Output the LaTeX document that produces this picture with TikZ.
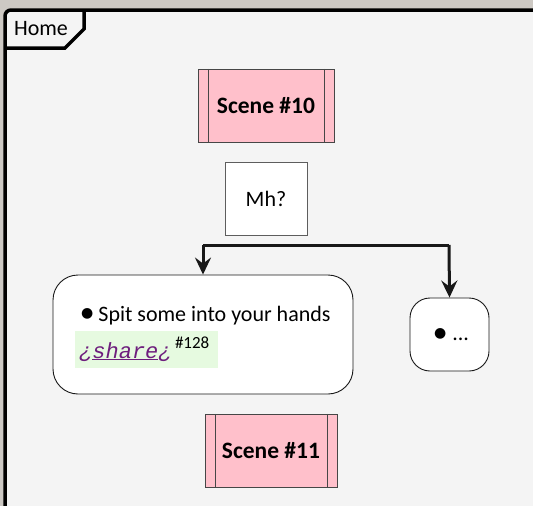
\documentclass[tikz,border=0pt]{standalone}
\usepackage{fontspec}
\setmainfont{Carlito}
\newfontfamily\monofont{Liberation Mono}
\newfontfamily\dotfont{DejaVu Sans}
\usetikzlibrary{arrows.meta}

\definecolor{outside}{RGB}{205,201,196}
\definecolor{framebg}{RGB}{244,244,244}
\definecolor{scenepink}{RGB}{255,192,203}
\definecolor{sharegreen}{RGB}{230,250,224}
\definecolor{sharepurple}{RGB}{110,30,125}
\definecolor{ink}{RGB}{24,24,24}

\newcommand{\bigdot}{{\dotfont\fontsize{14}{14}\selectfont ●}}

\begin{document}
\begin{tikzpicture}[x=1pt,y=-1pt,
  scene/.style={draw=ink!80,fill=scenepink,minimum width=136pt,minimum height=73pt,
    font=\fontsize{23.5}{26}\selectfont\bfseries},
  question/.style={draw=ink!70,fill=white,minimum width=82pt,minimum height=73pt,
    font=\fontsize{22}{26}\selectfont},
  activity/.style={draw=ink,fill=white,rounded corners=25pt,line width=0.9pt},
  flow/.style={ink,line width=3pt,-{Stealth[length=17pt,width=16pt,inset=6pt]}}]

\useasboundingbox (0,0) rectangle (533,506);
\fill [outside] (0,0) rectangle (533,506);
\clip (0,0) rectangle (533,506);

% frame
\draw [line width=3.5pt,fill=framebg,rounded corners=6pt] (5,10) rectangle (560,530);
\draw [line width=3.5pt] (5,48) -- (65,48) -- (84,29) -- (84,10);
\node (home) at (41,29) {\fontsize{22}{26}\selectfont Home};

% scenes
\node [scene] (s10) at (266,105.5) {Scene \#10};
\draw [ink!80] ([xshift=10pt]s10.north west) -- ([xshift=10pt]s10.south west);
\draw [ink!80] ([xshift=-10pt]s10.north east) -- ([xshift=-10pt]s10.south east);

\node [question] (mh) at (266,198.5) {Mh?};

% branches
\coordinate (bl) at (203,245);
\coordinate (br) at (449,245);
\draw [ink,line width=3pt] (bl) -- (br);

\node [activity,minimum width=300pt,minimum height=119pt] (act) at (203,334.5) {};
\node [activity,minimum width=79pt,minimum height=73pt,rounded corners=20pt] (more) at (449.5,334.5) {};

\draw [flow] (bl) -- (act.north);
\draw [flow] (br) -- (more.north);

% activity contents
\node [anchor=base west,inner sep=0pt,font=\fontsize{22}{26}\selectfont] (spit) at (81,321)
  {\raisebox{4pt}{\bigdot}\hspace{5pt}Spit some into your hands};
\fill [sharegreen] (75,331) rectangle (218,368);
\node [anchor=base west,inner sep=0pt,text=sharepurple,font=\fontsize{22}{24}\monofont\itshape] (share) at (79,358)
  {¿\underline{share}¿};
\node [anchor=base west,inner sep=0pt,font=\fontsize{17}{20}\selectfont] (ref) at ([xshift=3pt]share.base east) {\raisebox{10pt}{\#128}};

\node [font=\fontsize{22}{26}\selectfont] (dots) at ([xshift=2pt]more.center) {\raisebox{3pt}{\bigdot}\hspace{6pt}...};

\node [scene,minimum width=132pt] (s11) at (271,450.5) {Scene \#11};
\draw [ink!80] ([xshift=10pt]s11.north west) -- ([xshift=10pt]s11.south west);
\draw [ink!80] ([xshift=-10pt]s11.north east) -- ([xshift=-10pt]s11.south east);

\end{tikzpicture}
\end{document}
